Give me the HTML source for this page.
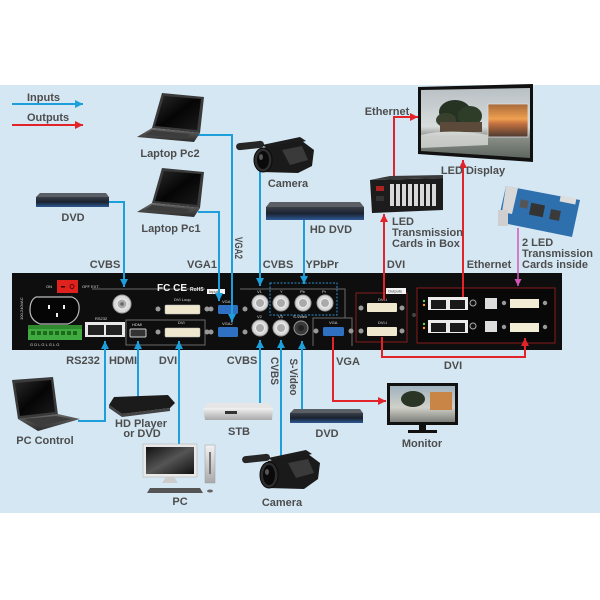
<!DOCTYPE html>
<html><head><meta charset="utf-8"><style>
html,body{margin:0;padding:0;background:#fff;}
svg{display:block}
text{font-family:"Liberation Sans",Arial,sans-serif;font-weight:bold;font-size:11px;fill:#4d4d4d}
.t{font-size:4px;fill:#ddd;font-weight:normal}
</style></head><body>
<svg width="600" height="600" viewBox="0 0 600 600" xmlns="http://www.w3.org/2000/svg">
<defs>
<marker id="ab" viewBox="0 0 10 10" refX="10" refY="5" markerWidth="8" markerHeight="8" markerUnits="userSpaceOnUse" orient="auto"><path d="M0,0 L10,5 L0,10 z" fill="#1d9fdb"/></marker>
<marker id="ar" viewBox="0 0 10 10" refX="10" refY="5" markerWidth="8" markerHeight="8" markerUnits="userSpaceOnUse" orient="auto"><path d="M0,0 L10,5 L0,10 z" fill="#e2232a"/></marker>
<marker id="ap" viewBox="0 0 10 10" refX="10" refY="5" markerWidth="7" markerHeight="7" markerUnits="userSpaceOnUse" orient="auto"><path d="M0,0 L10,5 L0,10 z" fill="#d455b8"/></marker>
<linearGradient id="dvd" x1="0" y1="0" x2="0" y2="1"><stop offset="0" stop-color="#3a3f48"/><stop offset="0.5" stop-color="#1a2230"/><stop offset="1" stop-color="#2d5a95"/></linearGradient>
<linearGradient id="lapscr" x1="0" y1="0" x2="1" y2="1"><stop offset="0" stop-color="#2a2a2a"/><stop offset="0.5" stop-color="#050505"/><stop offset="1" stop-color="#1b1b1b"/></linearGradient>
<linearGradient id="lapbase" x1="0" y1="0" x2="0" y2="1"><stop offset="0" stop-color="#6a6a6a"/><stop offset="1" stop-color="#2a2a2a"/></linearGradient>
<linearGradient id="silver" x1="0" y1="0" x2="0" y2="1"><stop offset="0" stop-color="#f2f2f2"/><stop offset="1" stop-color="#a9a9a9"/></linearGradient>
<linearGradient id="sky" x1="0" y1="0" x2="0" y2="1"><stop offset="0" stop-color="#b9c0c4"/><stop offset="0.55" stop-color="#d8dcdc"/><stop offset="0.7" stop-color="#8a8f88"/><stop offset="1" stop-color="#5f665f"/></linearGradient>
<linearGradient id="sun" x1="0" y1="0" x2="0" y2="1"><stop offset="0" stop-color="#a66a3a"/><stop offset="0.45" stop-color="#f0a050"/><stop offset="0.6" stop-color="#c27040"/><stop offset="1" stop-color="#4a3a30"/></linearGradient>
<linearGradient id="mon" x1="0" y1="0" x2="0" y2="1"><stop offset="0" stop-color="#9fb3c0"/><stop offset="0.6" stop-color="#d0d0c8"/><stop offset="1" stop-color="#7c807a"/></linearGradient>
<linearGradient id="pcscr" x1="0" y1="0" x2="1" y2="1"><stop offset="0" stop-color="#111"/><stop offset="0.5" stop-color="#555"/><stop offset="1" stop-color="#111"/></linearGradient>
</defs>

<rect x="0" y="0" width="600" height="600" fill="#fff"/>
<rect x="0" y="85" width="600" height="428" fill="#d4e7f3"/>

<!-- legend -->
<text x="27" y="101">Inputs</text>
<path d="M12,104 H83" stroke="#1d9fdb" stroke-width="2" fill="none" marker-end="url(#ab)"/>
<text x="27" y="121">Outputs</text>
<path d="M12,125 H83" stroke="#e2232a" stroke-width="2" fill="none" marker-end="url(#ar)"/>

<!-- ===== connector lines ===== -->
<g stroke="#1d9fdb" stroke-width="2" fill="none">
<path d="M109,202 H124 V287" marker-end="url(#ab)"/>
<path d="M198,212 H219 V301" marker-end="url(#ab)"/>
<path d="M196,135 H232 V322" marker-end="url(#ab)"/>
<path d="M260,170 V286" marker-end="url(#ab)"/>
<path d="M304,218 V284" marker-end="url(#ab)"/>
<path d="M78,421 H105 V341" marker-end="url(#ab)"/>
<path d="M138,399 V341" marker-end="url(#ab)"/>
<path d="M179,445 V341" marker-end="url(#ab)"/>
<path d="M260,406 V340" marker-end="url(#ab)"/>
<path d="M281,458 V340" marker-end="url(#ab)"/>
<path d="M302,410 V341" marker-end="url(#ab)"/>
</g>

<!-- ===== device panel ===== -->
<rect x="12" y="273" width="550" height="77" fill="#0e0e0e"/>
<g stroke="#6a6a6a" stroke-width="1" fill="none">
<path d="M92,289 H205"/>
<path d="M126,320 H205 V345 H126 Z"/>
<path d="M240,289 H345 V318 H313 V346"/>
<path d="M345,318 H352 V346"/>
</g>
<!-- red switch -->
<rect x="57" y="280" width="21" height="13" fill="#e0221f"/>
<rect x="61" y="286" width="4" height="1.5" fill="#300"/>
<circle cx="72" cy="286.5" r="2" fill="none" stroke="#400" stroke-width="0.8"/>
<text class="t" x="46" y="288">ON</text>
<text class="t" x="82" y="288">OFF  EXT.</text>
<text class="t" transform="translate(23,320) rotate(-90)">100-240VAC</text>
<!-- power socket -->
<path d="M36,297 H72 Q80,300 79,310 Q78,320 68,324 H40 Q30,320 30,310 Q30,300 36,297 Z" fill="#050505" stroke="#bdbdbd" stroke-width="1.2"/>
<rect x="48" y="305" width="2" height="4" fill="#eee"/>
<rect x="63" y="305" width="2" height="4" fill="#eee"/>
<rect x="56" y="313" width="2" height="4" fill="#eee"/>
<!-- terminal block -->
<rect x="28" y="325" width="54" height="15" fill="#3faa3f"/>
<rect x="28" y="325" width="54" height="4" fill="#2f8a2f"/>
<g fill="#1d6a1d"><rect x="31" y="331" width="4" height="4"/><rect x="37" y="331" width="4" height="4"/><rect x="43" y="331" width="4" height="4"/><rect x="49" y="331" width="4" height="4"/><rect x="55" y="331" width="4" height="4"/><rect x="61" y="331" width="4" height="4"/><rect x="67" y="331" width="4" height="4"/><rect x="73" y="331" width="4" height="4"/></g>
<text class="t" x="30" y="346">G D L G L G L G</text>
<!-- RS232 -->
<rect x="85" y="322" width="40" height="15" fill="#e8e8e8"/>
<rect x="88" y="325" width="16" height="10" fill="#222"/>
<rect x="106" y="325" width="16" height="10" fill="#222"/>
<text class="t" x="95" y="320">RS232</text>
<!-- BNC CVBS -->
<g><circle cx="122" cy="304" r="9" fill="#d9d9d9" stroke="#9a9a9a"/><circle cx="122" cy="304" r="5" fill="#aaa" stroke="#eee"/><circle cx="122" cy="304" r="1.8" fill="#666"/></g>
<!-- logos -->
<text x="157" y="291" style="font-size:10px;fill:#f2f2f2">FC  CE</text>
<text x="190" y="291" style="font-size:5px;fill:#f2f2f2">RoHS</text>
<!-- DVI loop / DVI / HDMI -->
<text class="t" x="174" y="301">DVI Loop</text>
<circle cx="158" cy="309" r="2.5" fill="#999"/><circle cx="207" cy="309" r="2.5" fill="#999"/>
<rect x="165" y="305" width="35" height="9" rx="1" fill="#efe8cf" stroke="#bbb" stroke-width="0.5"/>
<text class="t" x="178" y="324">DVI</text>
<circle cx="158" cy="332" r="2.5" fill="#999"/><circle cx="207" cy="332" r="2.5" fill="#999"/>
<rect x="165" y="328" width="35" height="9" rx="1" fill="#efe8cf" stroke="#bbb" stroke-width="0.5"/>
<text class="t" x="132" y="326">HDMI</text>
<rect x="130" y="329" width="16" height="8" rx="1" fill="#333" stroke="#ccc" stroke-width="1"/>
<!-- Inputs label + VGA -->
<rect x="207" y="289" width="18" height="5" fill="#f4f4f4"/>
<text class="t" x="209" y="293" style="fill:#333">Inputs</text>
<circle cx="211" cy="309" r="2.5" fill="#999"/><circle cx="245" cy="309" r="2.5" fill="#999"/>
<rect x="218" y="305" width="20" height="9" rx="1.5" fill="#2f70c2"/>
<circle cx="211" cy="332" r="2.5" fill="#999"/><circle cx="245" cy="332" r="2.5" fill="#999"/>
<rect x="218" y="327" width="20" height="10" rx="1.5" fill="#2f70c2"/>
<text class="t" x="222" y="303">VGA1</text>
<text class="t" x="222" y="325">VGA2</text>
<!-- BNCs -->
<rect x="270" y="283" width="67" height="32" fill="none" stroke="#2a8fd0" stroke-width="1" stroke-dasharray="2,1.5"/>
<g fill="#d9d9d9" stroke="#9a9a9a">
<circle cx="260" cy="303" r="8"/><circle cx="281" cy="303" r="8"/><circle cx="303" cy="303" r="8"/><circle cx="325" cy="303" r="8"/>
<circle cx="260" cy="328" r="8"/><circle cx="281" cy="328" r="8"/>
</g>
<g fill="#aaa" stroke="#eee">
<circle cx="260" cy="303" r="4.5"/><circle cx="281" cy="303" r="4.5"/><circle cx="303" cy="303" r="4.5"/><circle cx="325" cy="303" r="4.5"/>
<circle cx="260" cy="328" r="4.5"/><circle cx="281" cy="328" r="4.5"/>
</g>
<circle cx="301" cy="328" r="7" fill="#3a3a3a" stroke="#999"/>
<circle cx="301" cy="328" r="3" fill="#222"/>
<text class="t" x="257" y="293">V1</text><text class="t" x="280" y="293">Y</text><text class="t" x="300" y="293">Pb</text><text class="t" x="322" y="293">Pr</text>
<text class="t" x="257" y="318">V2</text><text class="t" x="278" y="318">V3</text><text class="t" x="293" y="318">S-Video</text>
<!-- VGA out -->
<text class="t" x="329" y="324">VGA</text>
<circle cx="316" cy="331" r="2.5" fill="#999"/><circle cx="351" cy="331" r="2.5" fill="#999"/>
<rect x="323" y="327" width="21" height="9" rx="1.5" fill="#2f70c2"/>
<!-- outputs box -->
<rect x="356" y="293" width="51" height="49" fill="none" stroke="#8a1c1c" stroke-width="1"/>
<rect x="386" y="288" width="20" height="6" fill="#f4f4f4"/>
<text class="t" x="388" y="292.5" style="fill:#333">Outputs</text>
<text class="t" x="378" y="301">DVI-I</text>
<circle cx="361" cy="308" r="2.5" fill="#999"/><circle cx="402" cy="308" r="2.5" fill="#999"/>
<rect x="367" y="303" width="30" height="9" rx="1" fill="#efe8cf"/>
<text class="t" x="378" y="324">DVI-I</text>
<circle cx="361" cy="331" r="2.5" fill="#999"/><circle cx="402" cy="331" r="2.5" fill="#999"/>
<rect x="367" y="327" width="30" height="9" rx="1" fill="#efe8cf"/>
<!-- right module -->
<circle cx="414" cy="315" r="2" fill="#444"/>
<rect x="417" y="288" width="138" height="55" fill="#080808" stroke="#8a1c1c" stroke-width="1"/>
<g>
<circle cx="424" cy="301" r="1.2" fill="#6c6"/><circle cx="424" cy="305" r="1.2" fill="#f93"/>
<rect x="428" y="297" width="40" height="13" fill="#ececec"/>
<rect x="431" y="300" width="15" height="9" fill="#1a1a1a"/><rect x="450" y="300" width="15" height="9" fill="#1a1a1a"/>
<circle cx="473" cy="303" r="3" fill="#111" stroke="#aaa"/>
<rect x="485" y="298" width="12" height="11" fill="#ddd"/>
<circle cx="504" cy="303" r="2.2" fill="#999"/><circle cx="545" cy="303" r="2.2" fill="#999"/>
<rect x="510" y="299" width="29" height="9" fill="#f3ecd4"/>
</g>
<g>
<circle cx="424" cy="324" r="1.2" fill="#6c6"/><circle cx="424" cy="328" r="1.2" fill="#f93"/>
<rect x="428" y="320" width="40" height="13" fill="#ececec"/>
<rect x="431" y="323" width="15" height="9" fill="#1a1a1a"/><rect x="450" y="323" width="15" height="9" fill="#1a1a1a"/>
<circle cx="473" cy="326" r="3" fill="#111" stroke="#aaa"/>
<rect x="485" y="321" width="12" height="11" fill="#ddd"/>
<circle cx="504" cy="327" r="2.2" fill="#999"/><circle cx="545" cy="327" r="2.2" fill="#999"/>
<rect x="510" y="323" width="29" height="9" fill="#f3ecd4"/>
</g>

<!-- blue arrows drawn over panel edges again (tips) -->
<g stroke="#1d9fdb" stroke-width="2" fill="none">
<path d="M124,273 V287" marker-end="url(#ab)"/>
<path d="M219,273 V301" marker-end="url(#ab)"/>
<path d="M232,273 V322" marker-end="url(#ab)"/>
<path d="M260,273 V286" marker-end="url(#ab)"/>
<path d="M304,273 V284" marker-end="url(#ab)"/>
<path d="M105,350 V341" marker-end="url(#ab)"/>
<path d="M138,350 V341" marker-end="url(#ab)"/>
<path d="M179,350 V341" marker-end="url(#ab)"/>
<path d="M260,350 V340" marker-end="url(#ab)"/>
<path d="M281,350 V340" marker-end="url(#ab)"/>
<path d="M302,350 V341" marker-end="url(#ab)"/>
</g>

<!-- red lines -->
<g stroke="#e2232a" stroke-width="2" fill="none">
<path d="M333,337 V401 H386" marker-end="url(#ar)"/>
<path d="M382,337 V357 H525 V338" marker-end="url(#ar)"/>
<path d="M384,300 V214" marker-end="url(#ar)"/>
<path d="M394,178 V117 H418" marker-end="url(#ar)"/>
<path d="M463,297 V160" marker-end="url(#ar)"/>
</g>
<path d="M518,228 V286" stroke="#d455b8" stroke-width="1.5" fill="none" marker-end="url(#ap)"/>

<!-- ===== devices ===== -->
<!-- DVD top-left -->
<polygon points="40,193 106,193 109,197 36,197" fill="#5a5f66"/>
<rect x="36" y="197" width="73" height="10" fill="url(#dvd)"/>
<!-- Laptop Pc2 -->
<polygon points="162,93 204,97 200,133 152,128" fill="#3a3a3a"/>
<polygon points="164,96 201,99 197,130 155,126" fill="url(#lapscr)"/>
<polygon points="152,128 200,133 194,142 137,137" fill="url(#lapbase)"/>
<polygon points="152,130 190,134 186,138 145,135" fill="#3c3c3c"/>
<!-- Laptop Pc1 -->
<polygon points="162,168 204,172 200,208 152,203" fill="#3a3a3a"/>
<polygon points="164,171 201,174 197,205 155,201" fill="url(#lapscr)"/>
<polygon points="152,203 200,208 194,217 137,212" fill="url(#lapbase)"/>
<polygon points="152,205 190,209 186,213 145,210" fill="#3c3c3c"/>
<!-- Camera top -->
<g>
<rect x="236" y="142" width="28" height="7" rx="3.5" fill="#262626" transform="rotate(-6 250 145)"/>
<path d="M262,145 L300,137 L306,141 L270,150 Z" fill="#1c1c1c"/>
<polygon points="262,148 302,141 314,150 312,166 298,173 262,172" fill="#1a1a1a"/>
<polygon points="282,150 302,146 308,160 290,165" fill="#3a3a3a"/>
<ellipse cx="263" cy="160" rx="9" ry="12" fill="#2e2e2e" stroke="#0a0a0a"/>
<ellipse cx="263" cy="160" rx="6" ry="9" fill="#0a0a0a"/>
<ellipse cx="261" cy="157" rx="2" ry="3" fill="#555"/>
</g>
<!-- HD DVD -->
<polygon points="270,202 360,202 364,207 266,207" fill="#5a5f66"/>
<rect x="266" y="207" width="98" height="13" fill="url(#dvd)"/>
<!-- LED box -->
<polygon points="370,180 443,178 443,210 372,213" fill="#1c1c1c"/>
<polygon points="370,180 390,176 443,175 443,178" fill="#3a3a3a"/>
<g fill="#d8d8d8"><rect x="390" y="184" width="4" height="22"/><rect x="396" y="184" width="4" height="22"/><rect x="402" y="184" width="4" height="22"/><rect x="408" y="184" width="4" height="22"/><rect x="414" y="184" width="4" height="22"/><rect x="420" y="184" width="4" height="22"/><rect x="426" y="184" width="4" height="22"/><rect x="432" y="184" width="4" height="22"/></g>
<rect x="376" y="186" width="8" height="5" fill="#a22"/>
<rect x="376" y="196" width="8" height="5" fill="#333"/>
<!-- LED display -->
<polygon points="418,87 533,84 533,162 418,154" fill="#111"/>
<polygon points="421,90 530,88 530,158 421,151" fill="url(#sky)"/>
<ellipse cx="455" cy="112" rx="16" ry="12" fill="#263323"/>
<ellipse cx="470" cy="116" rx="12" ry="10" fill="#2e3d28"/>
<ellipse cx="446" cy="120" rx="10" ry="7" fill="#39412e"/>
<rect x="440" y="122" width="42" height="10" fill="#5b4a3a"/>
<path d="M421,135 Q450,128 488,135 L488,145 L421,148 Z" fill="#e6e8e6" opacity="0.7"/>
<rect x="488" y="104" width="40" height="33" fill="url(#sun)" stroke="#ddd" stroke-width="0.8"/>
<!-- board -->
<polygon points="506,186 580,200 572,237 498,222" fill="#2e6fae"/>
<polygon points="506,186 518,188 512,214 502,212" fill="#d8d8d8"/>
<rect x="530" y="204" width="14" height="12" fill="#333" transform="rotate(11 537 210)"/>
<rect x="550" y="210" width="10" height="10" fill="#3a3a3a" transform="rotate(11 555 215)"/>
<rect x="520" y="200" width="8" height="8" fill="#555" transform="rotate(11 524 204)"/>
<rect x="560" y="197" width="16" height="6" fill="#ddd" transform="rotate(11 568 200)"/>
<rect x="498" y="210" width="10" height="16" fill="#cfcfcf"/>

<!-- PC control laptop -->
<polygon points="12,380 53,377 58,415 18,419" fill="#3a3a3a"/>
<polygon points="15,383 51,380 55,412 20,416" fill="url(#lapscr)"/>
<polygon points="18,419 58,414 80,419 38,431" fill="url(#lapbase)"/>
<polygon points="24,419 56,416 72,419 40,426" fill="#3c3c3c"/>
<!-- HD player -->
<polygon points="114,397 168,395 175,403 170,408 122,414 109,405" fill="#1b1b1b"/>
<polygon points="109,405 122,414 170,408 170,411 122,417 109,408" fill="#444"/>
<!-- PC -->
<rect x="143" y="444" width="54" height="33" fill="#e8e8e8" stroke="#aaa" stroke-width="0.5"/>
<rect x="146" y="447" width="48" height="27" fill="url(#pcscr)"/>
<polygon points="166,477 174,477 178,483 162,483" fill="#ccc"/>
<rect x="205" y="445" width="10" height="38" fill="url(#silver)" stroke="#999" stroke-width="0.5"/>
<rect x="209" y="452" width="2" height="22" fill="#777"/>
<polygon points="150,488 200,488 203,493 147,493" fill="#555"/>
<ellipse cx="210" cy="491" rx="3" ry="1.5" fill="#666"/>
<!-- STB -->
<polygon points="208,403 268,403 273,408 203,408" fill="#e6e6e6"/>
<polygon points="203,408 273,408 272,420 205,420" fill="url(#silver)"/>
<rect x="225" y="411" width="12" height="3" fill="#333"/>
<!-- DVD bottom -->
<polygon points="294,409 360,409 363,413 290,413" fill="#5a5f66"/>
<rect x="290" y="413" width="73" height="10" fill="url(#dvd)"/>
<!-- camera bottom -->
<g transform="translate(6,313)">
<rect x="236" y="142" width="28" height="7" rx="3.5" fill="#262626" transform="rotate(-6 250 145)"/>
<path d="M262,145 L300,137 L306,141 L270,150 Z" fill="#1c1c1c"/>
<polygon points="262,148 302,141 314,150 312,166 298,176 262,175" fill="#1a1a1a"/>
<polygon points="282,150 302,146 308,160 290,165" fill="#3a3a3a"/>
<ellipse cx="263" cy="162" rx="9" ry="13" fill="#2e2e2e" stroke="#0a0a0a"/>
<ellipse cx="263" cy="162" rx="6" ry="10" fill="#0a0a0a"/>
<ellipse cx="261" cy="159" rx="2" ry="3" fill="#555"/>
</g>
<!-- monitor -->
<rect x="387" y="383" width="71" height="42" fill="#111"/>
<rect x="390" y="386" width="65" height="36" fill="url(#mon)"/>
<ellipse cx="413" cy="399" rx="12" ry="8" fill="#2b3526"/>
<rect x="430" y="392" width="22" height="18" fill="#c98546"/>
<rect x="419" y="425" width="7" height="5" fill="#111"/>
<rect x="408" y="430" width="29" height="3" fill="#111"/>

<!-- ===== labels ===== -->
<text x="170" y="157" text-anchor="middle">Laptop Pc2</text>
<text x="171" y="232" text-anchor="middle">Laptop Pc1</text>
<text x="73" y="221" text-anchor="middle">DVD</text>
<text x="288" y="187" text-anchor="middle">Camera</text>
<text x="331" y="233" text-anchor="middle">HD DVD</text>
<text transform="translate(239,248) rotate(90)" text-anchor="middle" dy="4" textLength="22" lengthAdjust="spacingAndGlyphs">VGA2</text>
<text x="105" y="268" text-anchor="middle">CVBS</text>
<text x="202" y="268" text-anchor="middle">VGA1</text>
<text x="278" y="268" text-anchor="middle">CVBS</text>
<text x="322" y="268" text-anchor="middle">YPbPr</text>
<text x="396" y="268" text-anchor="middle">DVI</text>
<text x="489" y="268" text-anchor="middle">Ethernet</text>
<text x="522" y="246">2 LED</text>
<text x="522" y="257">Transmission</text>
<text x="522" y="268">Cards inside</text>
<text x="473" y="174" text-anchor="middle">LED Display</text>
<text x="392" y="225">LED</text>
<text x="392" y="236">Transmission</text>
<text x="392" y="247">Cards in Box</text>
<text x="387" y="115" text-anchor="middle">Ethernet</text>

<text x="83" y="364" text-anchor="middle">RS232</text>
<text x="123" y="364" text-anchor="middle">HDMI</text>
<text x="168" y="364" text-anchor="middle">DVI</text>
<text x="242" y="364" text-anchor="middle">CVBS</text>
<text transform="translate(275,371) rotate(90)" text-anchor="middle" dy="4" textLength="28" lengthAdjust="spacingAndGlyphs">CVBS</text>
<text transform="translate(294,377) rotate(90)" text-anchor="middle" dy="4" textLength="37" lengthAdjust="spacingAndGlyphs">S-Video</text>
<text x="348" y="365" text-anchor="middle">VGA</text>
<text x="453" y="369" text-anchor="middle">DVI</text>
<text x="45" y="444" text-anchor="middle">PC Control</text>
<text x="141" y="427" text-anchor="middle">HD Player</text>
<text x="142" y="437" text-anchor="middle">or DVD</text>
<text x="239" y="435" text-anchor="middle">STB</text>
<text x="180" y="505" text-anchor="middle">PC</text>
<text x="282" y="506" text-anchor="middle">Camera</text>
<text x="327" y="437" text-anchor="middle">DVD</text>
<text x="422" y="447" text-anchor="middle">Monitor</text>
</svg>
</body></html>
